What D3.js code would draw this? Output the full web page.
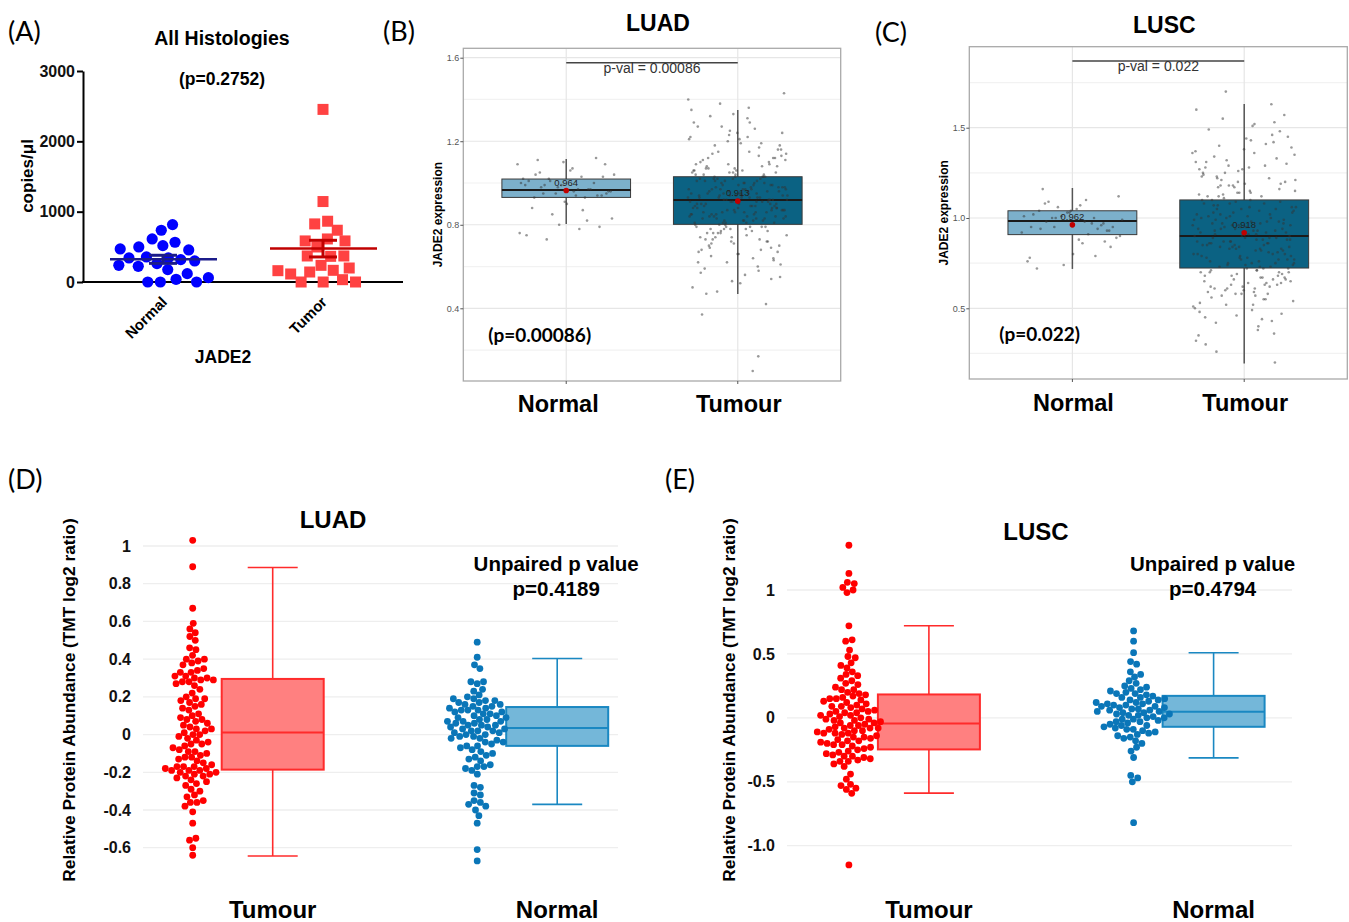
<!DOCTYPE html>
<html>
<head>
<meta charset="utf-8">
<script src="https://cdn.jsdelivr.net/npm/d3@7"></script>
<style>
  body { margin: 0; background: #fff; }
  svg text { font-family: "Liberation Sans", Arial, sans-serif; }
  .letter, .plabel { font-family: Lato, "Open Sans", sans-serif !important; }
</style>
</head>
<body>
<svg id="fig" width="1349" height="922"></svg>
<script>
// ---------- (A) ddPCR, all histologies ----------
var a_groups = ["Normal", "Tumor"];
var a_normal = [816, 736, 565, 612, 498, 470, 456, 517, 342, 299, 223, 318, 237, 342, 356, 176, 119, 62, 0, 0, 0, 38, 262];
var a_tumor = [2454, 1144, 826, 864, 736, 584, 584, 612, 498, 370, 370, 237, 199, 166, 161, 114, 142, 0, 0, 0, 33, 365];
var a_mean = [323, 475];
var a_sem = [[265, 380], [356, 593]];
var a_ticks = [0, 1000, 2000, 3000];

// ---------- (B) TCGA LUAD ----------
var b_groups = ["Normal", "Tumour"];
var b_normal = [0.97, 1.05, 0.94, 1.10, 0.99, 0.82, 1.02, 0.96, 1.07, 0.93,
  1.12, 0.98, 0.76, 1.03, 0.95, 1.09, 0.90, 1.01, 0.97, 0.85,
  1.04, 0.94, 1.11, 0.79, 0.99, 1.02, 0.93, 0.73, 0.96, 1.06,
  0.88, 1.00, 0.95, 1.09, 0.78, 0.98, 1.03, 0.91, 0.75, 0.97,
  1.01, 0.83, 0.96, 1.04, 0.94, 0.80, 1.00, 0.87, 0.99, 0.95];
var b_tumour = [0.93, 0.71, 1.12, 0.86, 1.01, 0.58, 0.97, 1.24, 0.82, 0.90,
  0.77, 1.05, 0.95, 0.64, 1.18, 0.88, 0.99, 0.74, 1.08, 0.92,
  0.84, 1.31, 0.96, 0.69, 1.02, 0.81, 0.91, 1.15, 0.55, 0.94,
  1.04, 0.79, 0.87, 1.21, 0.98, 0.73, 0.89, 1.06, 0.62, 0.93,
  1.27, 0.83, 0.97, 0.76, 1.10, 0.91, 0.50, 1.00, 0.85, 1.16,
  0.95, 0.68, 1.03, 0.80, 0.92, 1.36, 0.78, 0.99, 0.87, 1.09,
  0.60, 0.94, 1.13, 0.82, 1.01, 0.72, 0.96, 1.22, 0.89, 0.84,
  1.05, 0.66, 0.93, 1.19, 0.81, 0.98, 0.75, 1.07, 0.90, 0.53,
  1.29, 0.86, 1.02, 0.70, 0.95, 1.11, 0.83, 0.92, 1.40, 0.79,
  0.97, 0.63, 1.04, 0.88, 1.17, 0.77, 0.94, 1.00, 0.47, 0.91,
  1.25, 0.85, 0.99, 0.74, 1.08, 0.90, 0.57, 1.03, 0.82, 1.14,
  0.96, 0.69, 0.87, 1.33, 0.80, 1.01, 0.93, 0.61, 1.06, 0.89,
  0.42, 1.20, 0.84, 0.97, 0.76, 1.12, 0.91, 0.67, 1.02, 0.86,
  1.43, 0.78, 0.95, 1.09, 0.72, 0.88, 1.26, 0.83, 0.98, 0.52,
  0.37, 1.04, 0.81, 0.94, 1.15, 0.65, 0.92, 1.07, 0.79, 0.17,
  1.38, 0.87, 1.00, 0.73, 0.96, 1.23, 0.85, 0.10, 1.03, 0.90,
  0.88, 1.02, 0.79, 0.95, 1.11, 0.84, 0.70, 0.99, 0.91, 1.06,
  0.83, 0.76, 1.18, 0.93, 0.86, 1.03, 0.62, 0.97, 0.89, 1.14,
  0.81, 0.94, 1.27, 0.73, 1.00, 0.87, 0.56, 1.08, 0.92, 0.78,
  1.05, 0.85, 0.98, 0.67, 1.21, 0.90, 0.82, 1.01, 0.75, 0.95,
  1.32, 0.88, 0.71, 1.04, 0.93, 0.80, 1.16, 0.97, 0.59, 0.86,
  1.09, 0.91, 0.77, 1.02, 0.84, 1.24, 0.94, 0.68, 0.99, 0.87,
  0.81, 1.12, 0.92, 0.74, 1.06, 0.89, 0.48, 0.96, 1.19, 0.83,
  1.00, 0.79, 0.93, 1.29, 0.85, 0.64, 1.03, 0.90, 1.13, 0.76,
  0.98, 0.86, 1.07, 0.72, 0.94, 1.35, 0.82, 1.01, 0.88, 0.66,
  1.10, 0.91, 0.78, 0.97, 1.22, 0.84, 0.54, 1.05, 0.89, 0.95];
// [whisker low, q1, median, q3, whisker high]
var b_stats = [[0.804, 0.931, 0.966, 1.019, 1.115], [0.468, 0.802, 0.918, 1.030, 1.350]];
var b_mean = [0.964, 0.913];
var b_ticks = [0.4, 0.8, 1.2, 1.6];
var b_minor = [0.2, 0.6, 1.0, 1.4];

// ---------- (C) TCGA LUSC ----------
var c_groups = ["Normal", "Tumour"];
var c_normal = [0.98, 1.08, 0.93, 1.03, 0.78, 1.00, 0.95, 1.12, 0.88, 1.04,
  0.97, 0.74, 1.01, 0.91, 1.09, 0.95, 0.80, 1.02, 0.94, 1.06,
  0.99, 0.86, 1.16, 0.93, 1.03, 0.76, 0.97, 1.00, 0.89, 1.05,
  0.72, 0.96, 1.01, 0.92, 1.10, 0.98, 0.84, 1.04, 0.95, 0.79,
  1.00, 0.90, 1.07, 0.94, 0.87];
var c_tumour = [0.88, 1.23, 0.64, 1.05, 0.79, 1.41, 0.52, 0.96, 1.14, 0.71,
  0.93, 0.58, 1.31, 0.83, 1.02, 0.67, 1.19, 0.45, 0.89, 1.08,
  0.75, 1.36, 0.61, 0.98, 0.84, 1.27, 0.55, 1.11, 0.72, 0.91,
  1.49, 0.66, 1.03, 0.80, 0.38, 1.17, 0.94, 0.62, 1.25, 0.86,
  0.74, 1.06, 0.49, 0.97, 1.33, 0.69, 0.87, 1.12, 0.57, 0.92,
  1.44, 0.78, 1.00, 0.63, 1.21, 0.82, 0.42, 1.09, 0.95, 0.70,
  1.29, 0.60, 0.90, 1.15, 0.76, 1.53, 0.85, 0.50, 1.04, 0.73,
  0.99, 1.38, 0.65, 0.81, 1.18, 0.54, 0.93, 1.07, 0.68, 1.26,
  0.35, 0.88, 1.13, 0.77, 1.01, 0.59, 1.46, 0.84, 0.96, 0.71,
  1.22, 0.47, 0.90, 1.10, 0.64, 1.32, 0.79, 0.98, 0.56, 1.05,
  0.83, 1.60, 0.67, 0.94, 1.20, 0.74, 0.30, 1.02, 0.87, 1.35,
  0.61, 0.91, 1.16, 0.78, 0.53, 1.08, 0.95, 0.70, 1.28, 0.86,
  1.42, 0.66, 0.99, 0.40, 1.12, 0.82, 0.92, 1.24, 0.58, 0.75,
  1.03, 1.51, 0.89, 0.63, 1.14, 0.80, 0.44, 0.97, 1.30, 0.72,
  0.85, 1.63, 0.68, 1.06, 0.91, 0.26, 1.19, 0.77, 1.00, 0.55,
  1.70, 0.88, 1.10, 0.62, 0.20, 0.94, 1.37, 0.73, 0.84, 1.57,
  0.91, 0.68, 1.22, 0.83, 1.04, 0.59, 1.34, 0.77, 0.96, 1.13,
  0.72, 0.87, 1.45, 0.64, 1.01, 0.80, 1.18, 0.51, 0.93, 1.07,
  0.69, 1.27, 0.85, 0.98, 0.61, 1.39, 0.75, 1.10, 0.89, 0.46,
  1.02, 0.82, 1.21, 0.66, 0.95, 1.31, 0.73, 0.87, 1.15, 0.57,
  0.99, 1.48, 0.79, 0.92, 0.63, 1.25, 0.84, 1.06, 0.70, 0.36,
  1.17, 0.90, 0.76, 1.40, 0.97, 0.60, 1.08, 0.86, 1.29, 0.74,
  0.52, 1.03, 0.81, 1.20, 0.94, 0.67, 1.55, 0.88, 0.78, 1.12,
  0.43, 0.96, 1.36, 0.71, 1.05, 0.83, 0.58, 1.23, 0.92, 1.00,
  0.65, 1.43, 0.86, 0.75, 1.09, 0.32, 0.97, 1.18, 0.80, 0.89,
  1.28, 0.62, 1.01, 0.77, 1.52, 0.93, 0.70, 1.14, 0.48, 0.85];
var c_stats = [[0.718, 0.908, 0.983, 1.040, 1.166], [0.194, 0.723, 0.900, 1.100, 1.631]];
var c_mean = [0.962, 0.918];
var c_ticks = [0.5, 1.0, 1.5];
var c_minor = [0.25, 0.75, 1.25, 1.75];

// ---------- (D) CPTAC LUAD ----------
var d_groups = ["Tumour", "Normal"];
var d_tumour = [1.03, 0.89, 0.67, 0.59, 0.56, 0.54, 0.52, 0.50, 0.46, 0.45, 0.42, 0.40, 0.40, 0.38, 0.37,
  0.35, 0.33, 0.33, 0.31, 0.30, 0.30, 0.29, 0.28, 0.28, 0.27, 0.24, 0.20, 0.19, 0.18, 0.17, 0.15, 0.13,
  0.10, 0.09, 0.08, 0.07, 0.06, 0.04, 0.03, 0.03, 0.02, 0.01, 0.00, -0.01, -0.02, -0.04, -0.05, -0.06,
  -0.07, -0.08, -0.09, -0.10, -0.11, -0.12, -0.13, -0.15, -0.16, -0.17, -0.17, -0.18, -0.18, -0.19,
  -0.19, -0.20, -0.20, -0.21, -0.22, -0.23, -0.24, -0.25, -0.26, -0.29, -0.30, -0.32, -0.35, -0.36,
  -0.38, -0.41, -0.47, -0.55, -0.56, -0.60, -0.64, 0.39, 0.31, 0.26, 0.16, 0.05, -0.03, -0.14, -0.21,
  -0.17, 0.22, 0.34, 0.11, -0.09, -0.27, -0.36, 0.00, 0.19, -0.12, -0.19, 0.29, -0.05, 0.14, -0.22, 0.08, -0.33];
var d_normal = [0.49, 0.41, 0.37, 0.35, 0.28, 0.28, 0.27, 0.24, 0.23, 0.21, 0.20, 0.19, 0.19, 0.18, 0.18,
  0.17, 0.16, 0.15, 0.15, 0.14, 0.14, 0.13, 0.13, 0.12, 0.12, 0.11, 0.10, 0.10, 0.09, 0.08, 0.08, 0.07,
  0.07, 0.06, 0.06, 0.05, 0.05, 0.04, 0.04, 0.03, 0.03, 0.02, 0.02, 0.01, 0.01, 0.00, 0.00, -0.01, -0.02,
  -0.02, -0.03, -0.04, -0.04, -0.05, -0.06, -0.07, -0.08, -0.09, -0.10, -0.11, -0.12, -0.13, -0.14, -0.16,
  -0.17, -0.17, -0.18, -0.19, -0.21, -0.27, -0.28, -0.31, -0.32, -0.35, -0.36, -0.37, -0.38, -0.40, -0.43,
  -0.47, -0.61, -0.67, 0.16, 0.11, 0.05, -0.01, 0.09, 0.13, 0.02, -0.06, 0.17, 0.07];
var d_stats = [[-0.644, -0.186, 0.011, 0.295, 0.886], [-0.370, -0.060, 0.035, 0.146, 0.403]];
var d_ticks = [-0.6, -0.4, -0.2, 0, 0.2, 0.4, 0.6, 0.8, 1];
var d_tick_labels = ["-0.6", "-0.4", "-0.2", "0", "0.2", "0.4", "0.6", "0.8", "1"];

// ---------- (E) CPTAC LUSC ----------
var e_groups = ["Tumour", "Normal"];
var e_tumour = [1.35, 1.13, 1.06, 1.05, 1.02, 1.00, 0.98, 0.72, 0.61, 0.60, 0.53, 0.48, 0.47, 0.43, 0.41,
  0.39, 0.36, 0.34, 0.33, 0.29, 0.27, 0.26, 0.24, 0.22, 0.22, 0.19, 0.18, 0.16, 0.15, 0.15, 0.13, 0.12,
  0.10, 0.09, 0.09, 0.07, 0.06, 0.05, 0.04, 0.04, 0.02, 0.02, 0.01, -0.01, -0.01, -0.02, -0.03, -0.04,
  -0.04, -0.05, -0.06, -0.07, -0.08, -0.08, -0.09, -0.10, -0.11, -0.12, -0.12, -0.13, -0.14, -0.15,
  -0.16, -0.17, -0.18, -0.19, -0.20, -0.21, -0.22, -0.23, -0.24, -0.26, -0.27, -0.28, -0.29, -0.30,
  -0.31, -0.32, -0.33, -0.34, -0.36, -0.38, -0.44, -0.48, -0.52, -0.53, -0.55, -0.56, -0.59, -1.15,
  0.31, 0.20, 0.11, 0.03, -0.06, -0.10, -0.15, -0.25, -0.30, 0.14, 0.00, -0.18, -0.02, 0.08, -0.12,
  0.17, -0.21, 0.05, -0.08, -0.34];
var e_normal = [0.68, 0.60, 0.51, 0.44, 0.42, 0.36, 0.34, 0.32, 0.29, 0.27, 0.25, 0.24, 0.22, 0.21, 0.20,
  0.19, 0.18, 0.17, 0.16, 0.15, 0.14, 0.14, 0.13, 0.12, 0.11, 0.10, 0.10, 0.09, 0.08, 0.08, 0.07, 0.06,
  0.05, 0.05, 0.04, 0.03, 0.03, 0.02, 0.01, 0.00, 0.00, -0.01, -0.02, -0.03, -0.04, -0.05, -0.06, -0.07,
  -0.08, -0.09, -0.10, -0.11, -0.12, -0.13, -0.14, -0.16, -0.18, -0.20, -0.23, -0.26, -0.31, -0.45,
  -0.47, -0.50, -0.82, 0.12, 0.06, 0.02, -0.03, 0.16, 0.09, -0.06, 0.04, -0.09, 0.19, 0.11, -0.01, 0.07,
  -0.15, 0.23];
var e_stats = [[-0.589, -0.247, -0.044, 0.183, 0.720], [-0.313, -0.070, 0.047, 0.172, 0.509]];
var e_ticks = [-1, -0.5, 0, 0.5, 1];
var e_tick_labels = ["-1.0", "-0.5", "0", "0.5", "1"];

var svg = d3.select("#fig");

// beeswarm via force layout (positions only, values untouched)
function swarm(values, y, cx, r, k) {
  var nodes = values.map(function (v) { return {v: v, x: cx, y: y(v), fy: y(v)}; });
  var sim = d3.forceSimulation(nodes)
    .force("x", d3.forceX(cx).strength(k || 0.06))
    .force("c", d3.forceCollide(r))
    .stop();
  for (var i = 0; i < 250; i++) sim.tick();
  return nodes;
}

function letter(txt, x, y) {
  svg.append("text").attr("class", "letter").attr("x", x).attr("y", y)
    .attr("font-size", 27).text(txt);
}

// ================= A =================
function drawA() {
  var g = svg.append("g");
  var y = d3.scaleLinear().domain([0, 3000]).range([282, 71]);
  var x = d3.scalePoint().domain(a_groups).range([163, 323]);

  g.append("text").attr("x", 222).attr("y", 45).attr("text-anchor", "middle")
    .attr("font-size", 19.5).attr("font-weight", "bold").text("All Histologies");
  g.append("text").attr("x", 222).attr("y", 85).attr("text-anchor", "middle")
    .attr("font-size", 17.5).attr("font-weight", "bold").text("(p=0.2752)");

  var ax = g.append("g").attr("transform", "translate(83,0)")
    .call(d3.axisLeft(y).tickValues(a_ticks).tickSize(6).tickSizeOuter(0).tickPadding(2).tickFormat(d3.format("d")));
  ax.select(".domain").attr("stroke-width", 2).attr("stroke", "#000");
  ax.selectAll(".tick line").attr("stroke-width", 2);
  ax.selectAll("text").attr("font-size", 16).attr("font-weight", "bold").attr("fill", "#111");

  g.append("line").attr("x1", 82).attr("x2", 403).attr("y1", y(0)).attr("y2", y(0))
    .attr("stroke", "#000").attr("stroke-width", 2);
  g.selectAll(".xt").data(a_groups).join("line")
    .attr("x1", x).attr("x2", x).attr("y1", y(0)).attr("y2", y(0) + 4).attr("stroke", "#000").attr("stroke-width", 1.5);
  g.selectAll(".xl").data(a_groups).join("text")
    .attr("transform", function (d) { return "translate(" + (x(d) + 5) + "," + (y(0) + 21) + ") rotate(-45)"; })
    .attr("text-anchor", "end").attr("font-size", 15).attr("font-weight", "bold").text(function (d) { return d; });
  g.append("text").attr("x", 223).attr("y", 363).attr("text-anchor", "middle")
    .attr("font-size", 17.5).attr("font-weight", "bold").text("JADE2");
  g.append("text").attr("transform", "translate(33,176) rotate(-90)").attr("text-anchor", "middle")
    .attr("font-size", 17).attr("font-weight", "bold").text("copies/\u03bcl");

  var nN = swarm(a_normal, y, x("Normal"), 6.3, 0.05);
  g.selectAll(".pn").data(nN).join("circle")
    .attr("cx", function (d) { return d.x; }).attr("cy", function (d) { return d.y; })
    .attr("r", 5.6).attr("fill", "#0000ff");
  var nT = swarm(a_tumor, y, x("Tumor"), 6.6, 0.04);
  g.selectAll(".pt").data(nT).join("rect")
    .attr("x", function (d) { return d.x - 5.5; }).attr("y", function (d) { return d.y - 5.5; })
    .attr("width", 11).attr("height", 11).attr("fill", "#ff4242");

  var cols = ["#1c1c8a", "#c00000"];
  a_groups.forEach(function (grp, i) {
    var cx = x(grp);
    g.append("line").attr("x1", cx - 53).attr("x2", cx + 54).attr("y1", y(a_mean[i])).attr("y2", y(a_mean[i]))
      .attr("stroke", cols[i]).attr("stroke-width", 2.5);
    g.append("line").attr("x1", cx).attr("x2", cx).attr("y1", y(a_sem[i][0])).attr("y2", y(a_sem[i][1]))
      .attr("stroke", cols[i]).attr("stroke-width", 3);
    a_sem[i].forEach(function (v) {
      g.append("line").attr("x1", cx - 14).attr("x2", cx + 14).attr("y1", y(v)).attr("y2", y(v))
        .attr("stroke", cols[i]).attr("stroke-width", 3);
    });
  });
}

// ================= B / C =================
function drawTcga(o) {
  var g = svg.append("g");
  var x = d3.scalePoint().domain(o.groups).range([o.left, o.right]).padding(0.6);
  var y = d3.scaleLinear().domain(o.yDomain).range(o.yRange);
  var bw = x.step() * 0.75;

  g.selectAll(".mn").data(o.minor).join("line")
    .attr("x1", o.left).attr("x2", o.right).attr("y1", y).attr("y2", y).attr("stroke", "#f2f2f2").attr("stroke-width", 1.2);
  g.selectAll(".mj").data(o.ticks).join("line")
    .attr("x1", o.left).attr("x2", o.right).attr("y1", y).attr("y2", y).attr("stroke", "#e6e6e6").attr("stroke-width", 1.2);
  g.selectAll(".vg").data(o.groups).join("line")
    .attr("x1", x).attr("x2", x).attr("y1", o.top).attr("y2", o.bottom).attr("stroke", "#e6e6e6").attr("stroke-width", 1.2);

  var fills = ["#7cb0cb", "#0b6283"];
  o.groups.forEach(function (grp, i) {
    var s = o.stats[i], cx = x(grp);
    g.append("line").attr("x1", cx).attr("x2", cx).attr("y1", y(s[0])).attr("y2", y(s[4]))
      .attr("stroke", "#555").attr("stroke-width", 1.5);
    g.append("rect").attr("x", cx - bw / 2).attr("width", bw).attr("y", y(s[3])).attr("height", y(s[1]) - y(s[3]))
      .attr("fill", fills[i]).attr("stroke", "#3a3a3a").attr("stroke-width", 1);
    g.append("line").attr("x1", cx - bw / 2).attr("x2", cx + bw / 2).attr("y1", y(s[2])).attr("y2", y(s[2]))
      .attr("stroke", "#1a1a1a").attr("stroke-width", 2);
    var vals = o.points[i];
    g.selectAll(".p" + i).data(vals).join("circle")
      .attr("cx", function (d, j) { return cx + (((j + 1) * 0.618034) % 1 - 0.5) * 2 * o.jit; })
      .attr("cy", function (d) { return y(d); })
      .attr("r", 1.3).attr("fill", "#333").attr("fill-opacity", 0.5);
    g.append("circle").attr("cx", cx).attr("cy", y(o.mean[i])).attr("r", 2.8).attr("fill", "#c00000");
    g.append("text").attr("x", cx).attr("y", y(o.mean[i]) - 5).attr("text-anchor", "middle")
      .attr("font-size", 9.5).attr("fill", "#222").text(d3.format(".3f")(o.mean[i]));
  });

  g.append("rect").attr("x", o.left).attr("y", o.top).attr("width", o.right - o.left).attr("height", o.bottom - o.top)
    .attr("fill", "none").attr("stroke", "#a9a9a9").attr("stroke-width", 1.3);

  var ax = g.append("g").attr("transform", "translate(" + o.left + ",0)")
    .call(d3.axisLeft(y).tickValues(o.ticks).tickSize(3).tickPadding(1).tickFormat(d3.format(".1f")));
  ax.select(".domain").remove();
  ax.selectAll(".tick line").attr("stroke", "#555");
  ax.selectAll("text").attr("font-size", 9).attr("fill", "#555");
  g.selectAll(".xt").data(o.groups).join("line")
    .attr("x1", x).attr("x2", x).attr("y1", o.bottom).attr("y2", o.bottom + 3).attr("stroke", "#555");

  // significance bracket
  var by = y(o.bracket);
  g.append("line").attr("x1", x(o.groups[0])).attr("x2", x(o.groups[1])).attr("y1", by).attr("y2", by)
    .attr("stroke", "#444").attr("stroke-width", 1.4);
  g.append("text").attr("x", (x(o.groups[0]) + x(o.groups[1])) / 2).attr("y", by + 10).attr("text-anchor", "middle")
    .attr("font-size", 14).attr("fill", "#333").text(o.pval);

  g.append("text").attr("class", "plabel").attr("x", o.left + o.pdx).attr("y", o.py)
    .attr("font-size", 19).attr("font-weight", "bold").text(o.plabel);

  g.selectAll(".xl").data(o.groups).join("text")
    .attr("x", function (d, i) { return x(d) + o.xlabDx[i]; }).attr("y", o.xlabY).attr("text-anchor", "middle")
    .attr("font-size", 23.5).attr("font-weight", "bold").text(function (d) { return d; });

  g.append("text").attr("x", (o.left + o.right) / 2 + 6).attr("y", o.titleY).attr("text-anchor", "middle")
    .attr("font-size", 23).attr("font-weight", "bold").text(o.title);
  g.append("text").attr("transform", "translate(" + (o.left - 21) + "," + ((o.top + o.bottom) / 2) + ") rotate(-90)")
    .attr("text-anchor", "middle").attr("font-size", 12).attr("font-weight", "bold").text("JADE2 expression");
}

// ================= D / E =================
function drawCptac(o) {
  var g = svg.append("g");
  var x = d3.scalePoint().domain(o.groups).range(o.xRange);
  var y = d3.scaleLinear().domain(o.yDomain).range(o.yRange);
  var bw = 102;

  g.selectAll(".gr").data(o.ticks).join("line")
    .attr("x1", o.gridL).attr("x2", o.gridR).attr("y1", y).attr("y2", y).attr("stroke", "#eeeeee").attr("stroke-width", 1.3);
  var ax = g.append("g").attr("transform", "translate(" + (o.gridL - 11) + ",0)")
    .call(d3.axisLeft(y).tickValues(o.ticks).tickSize(0).tickPadding(1)
      .tickFormat(function (d, i) { return o.tickLabels[i]; }));
  ax.select(".domain").remove();
  ax.selectAll("text").attr("font-size", 16).attr("font-weight", "bold").attr("fill", "#111");

  var stroke = ["#ff2b2b", "#1a88c2"], fill = ["#ff8080", "#74b7d9"], dot = ["#ff0000", "#0a76b8"];
  o.groups.forEach(function (grp, i) {
    var s = o.stats[i], cx = x(grp);
    g.append("line").attr("x1", cx).attr("x2", cx).attr("y1", y(s[0])).attr("y2", y(s[1]))
      .attr("stroke", stroke[i]).attr("stroke-width", 1.6);
    g.append("line").attr("x1", cx).attr("x2", cx).attr("y1", y(s[3])).attr("y2", y(s[4]))
      .attr("stroke", stroke[i]).attr("stroke-width", 1.6);
    [s[0], s[4]].forEach(function (v) {
      g.append("line").attr("x1", cx - 25).attr("x2", cx + 25).attr("y1", y(v)).attr("y2", y(v))
        .attr("stroke", stroke[i]).attr("stroke-width", 1.6);
    });
    g.append("rect").attr("x", cx - bw / 2).attr("width", bw).attr("y", y(s[3])).attr("height", y(s[1]) - y(s[3]))
      .attr("fill", fill[i]).attr("stroke", stroke[i]).attr("stroke-width", 2);
    g.append("line").attr("x1", cx - bw / 2).attr("x2", cx + bw / 2).attr("y1", y(s[2])).attr("y2", y(s[2]))
      .attr("stroke", stroke[i]).attr("stroke-width", 2);

    var nodes = swarm(o.points[i], y, cx - 80, 3.3, 0.09);
    g.selectAll(".p" + i).data(nodes).join("circle")
      .attr("cx", function (d) { return d.x; }).attr("cy", function (d) { return d.y; })
      .attr("r", 3.4).attr("fill", dot[i]);
  });

  g.selectAll(".xl").data(o.groups).join("text")
    .attr("x", x).attr("y", 918).attr("text-anchor", "middle")
    .attr("font-size", 24).attr("font-weight", "bold").text(function (d) { return d; });
  g.append("text").attr("x", o.titleX).attr("y", o.titleY).attr("text-anchor", "middle")
    .attr("font-size", 24).attr("font-weight", "bold").text(o.title);
  g.append("text").attr("x", x(o.groups[1]) - 1).attr("y", 571).attr("text-anchor", "middle")
    .attr("font-size", 20.5).attr("font-weight", "bold").text("Unpaired p value");
  g.append("text").attr("x", x(o.groups[1]) - 1).attr("y", 596).attr("text-anchor", "middle")
    .attr("font-size", 20.5).attr("font-weight", "bold").text(o.pval);
  g.append("text").attr("transform", "translate(" + o.ylabX + ",700) rotate(-90)").attr("text-anchor", "middle")
    .attr("font-size", 17.3).attr("font-weight", "bold").text("Relative Protein Abundance (TMT log2 ratio)");
}

drawA();
drawTcga({groups: b_groups, points: [b_normal, b_tumour], stats: b_stats, mean: b_mean,
  ticks: b_ticks, minor: b_minor, yDomain: [0.4, 1.6], yRange: [308.3, 57.7],
  left: 463.3, right: 840.7, top: 48.3, bottom: 381, jit: 50, bracket: 1.576,
  pval: "p-val = 0.00086", plabel: "(p=0.00086)", pdx: 25, py: 342, xlabY: 412, xlabDx: [-8, 1],
  titleY: 31, title: "LUAD"});
drawTcga({groups: c_groups, points: [c_normal, c_tumour], stats: c_stats, mean: c_mean,
  ticks: c_ticks, minor: c_minor, yDomain: [0.5, 1.5], yRange: [308.3, 127.7],
  left: 969.3, right: 1347.3, top: 46.7, bottom: 379, jit: 52, bracket: 1.869,
  pval: "p-val = 0.022", plabel: "(p=0.022)", pdx: 30, py: 341, xlabY: 411, xlabDx: [1, 1],
  titleY: 33, title: "LUSC"});
drawCptac({groups: d_groups, points: [d_tumour, d_normal], stats: d_stats, ticks: d_ticks, tickLabels: d_tick_labels,
  xRange: [272.7, 557.2], yDomain: [-0.6, 1], yRange: [847.7, 546], gridL: 143, gridR: 618,
  title: "LUAD", titleX: 333, titleY: 528, pval: "p=0.4189", ylabX: 75});
drawCptac({groups: e_groups, points: [e_tumour, e_normal], stats: e_stats, ticks: e_ticks, tickLabels: e_tick_labels,
  xRange: [928.9, 1213.6], yDomain: [-1, 1], yRange: [845.7, 590], gridL: 787, gridR: 1292,
  title: "LUSC", titleX: 1036, titleY: 540, pval: "p=0.4794", ylabX: 735});

letter("(A)", 8, 41);
letter("(B)", 383, 41);
letter("(C)", 875, 42);
letter("(D)", 8, 489);
letter("(E)", 665, 489);
</script>
</body>
</html>
